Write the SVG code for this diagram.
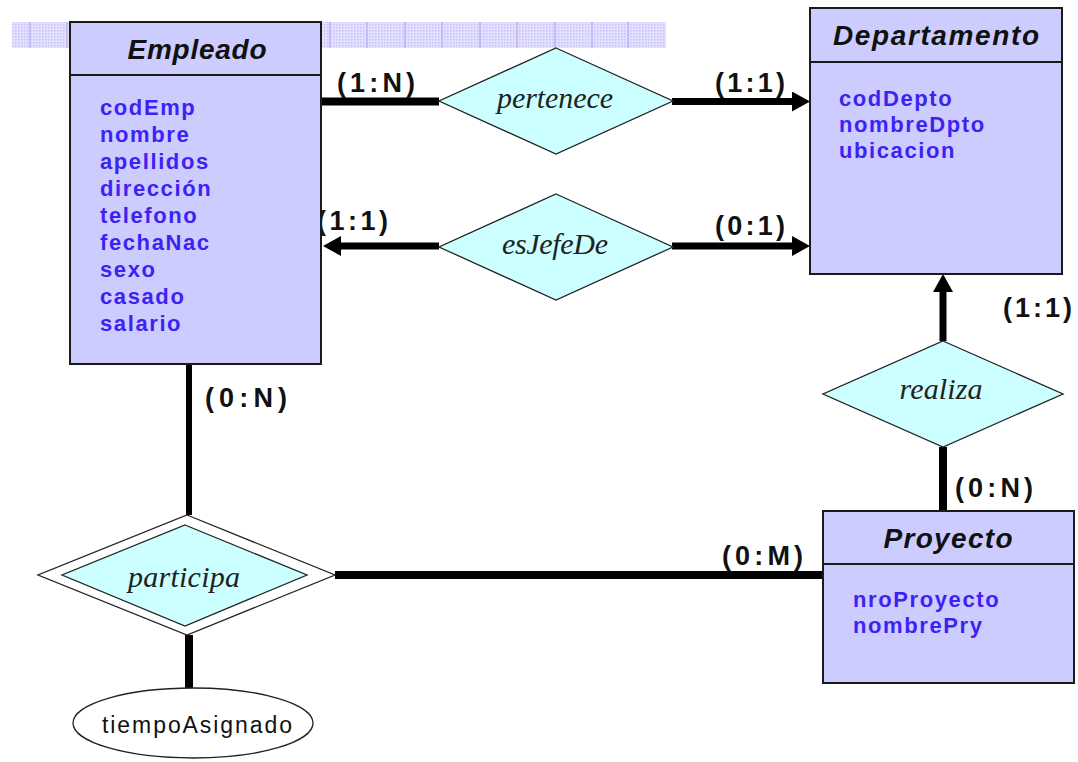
<svg xmlns="http://www.w3.org/2000/svg" width="1078" height="762" viewBox="0 0 1078 762">
  <defs>
    <pattern id="dots" width="3" height="3" patternUnits="userSpaceOnUse">
      <rect width="3" height="3" fill="#e4e1ff"/>
      <rect width="1.5" height="1.5" fill="#c6c1fa"/>
    </pattern>
    <marker id="arrow" viewBox="0 -10 18 20" refX="0" refY="0" markerWidth="18" markerHeight="20" markerUnits="userSpaceOnUse" orient="auto">
      <path d="M0,-10 L18,0 L0,10 z" fill="#000"/>
    </marker>
    <style>
      .entity { fill: #ccccff; stroke: #1a1a1a; stroke-width: 2; }
      .divider { stroke: #1a1a1a; stroke-width: 2; }
      .rel { fill: #ccffff; stroke: #222; stroke-width: 1.3; }
      .title { font-family: "Liberation Sans", Arial, sans-serif; font-style: italic; font-weight: bold; font-size: 28px; fill: #111; text-anchor: middle; }
      .attr { font-family: "Liberation Sans", Arial, sans-serif; font-weight: bold; font-size: 22px; letter-spacing: 1.6px; fill: #3d22f2; }
      .relname { font-family: "Liberation Serif", "Times New Roman", serif; font-style: italic; font-size: 30px; fill: #222; text-anchor: middle; }
      .card { font-family: "Liberation Sans", Arial, sans-serif; font-weight: bold; font-size: 27px; fill: #111; }
      .conn { stroke: #000; fill: none; }
    </style>
  </defs>

  <rect width="1078" height="762" fill="#ffffff"/>

  <!-- dotted banner strip behind the top of the page -->
  <g id="banner">
    <rect x="12" y="22" width="654" height="26" fill="url(#dots)"/>
    <g stroke="#c4bcf8" stroke-width="2">
      <line x1="30" y1="22" x2="30" y2="48"/>
      <line x1="67" y1="22" x2="67" y2="48"/>
      <line x1="330" y1="22" x2="330" y2="48"/>
      <line x1="367" y1="22" x2="367" y2="48"/>
      <line x1="405" y1="22" x2="405" y2="48"/>
      <line x1="442" y1="22" x2="442" y2="48"/>
      <line x1="480" y1="22" x2="480" y2="48"/>
      <line x1="517" y1="22" x2="517" y2="48"/>
      <line x1="555" y1="22" x2="555" y2="48"/>
      <line x1="592" y1="22" x2="592" y2="48"/>
      <line x1="628" y1="22" x2="628" y2="48"/>
    </g>
  </g>

  <!-- connectors -->
  <g id="connectors" class="conn">
    <line x1="321" y1="101.5" x2="439" y2="101.5" stroke-width="8"/>
    <line x1="672" y1="101.5" x2="792" y2="101.5" stroke-width="7" marker-end="url(#arrow)"/>
    <line x1="439" y1="246" x2="341" y2="246" stroke-width="7" marker-end="url(#arrow)"/>
    <line x1="672" y1="246" x2="792" y2="246" stroke-width="7" marker-end="url(#arrow)"/>
    <line x1="943" y1="341" x2="943" y2="292" stroke-width="7" marker-end="url(#arrow)"/>
    <line x1="943" y1="447" x2="943" y2="511" stroke-width="8"/>
    <line x1="189" y1="364" x2="189" y2="515" stroke-width="6"/>
    <line x1="335" y1="575" x2="823" y2="575" stroke-width="8"/>
    <line x1="189" y1="635" x2="189" y2="688" stroke-width="8"/>
  </g>

  <!-- cardinalities -->
  <g id="cardinalities" class="card">
    <text x="337" y="92" textLength="78">(1:N)</text>
    <text x="715" y="92" textLength="70">(1:1)</text>
    <text x="317" y="230" textLength="71">(1:1)</text>
    <text x="715" y="235" textLength="70">(0:1)</text>
    <text x="1003" y="317" textLength="69">(1:1)</text>
    <text x="955" y="497" textLength="78">(0:N)</text>
    <text x="205" y="407" textLength="82">(0:N)</text>
    <text x="722" y="565" textLength="81">(0:M)</text>
  </g>

  <!-- entity: Empleado -->
  <g id="empleado">
    <rect class="entity" x="70" y="22" width="251" height="342"/>
    <line class="divider" x1="70" y1="75" x2="321" y2="75"/>
    <text class="title" x="197" y="59" textLength="139">Empleado</text>
    <text class="attr" x="100" y="115">codEmp</text>
    <text class="attr" x="100" y="142">nombre</text>
    <text class="attr" x="100" y="169">apellidos</text>
    <text class="attr" x="100" y="196">dirección</text>
    <text class="attr" x="100" y="223">telefono</text>
    <text class="attr" x="100" y="250">fechaNac</text>
    <text class="attr" x="100" y="277">sexo</text>
    <text class="attr" x="100" y="304">casado</text>
    <text class="attr" x="100" y="331">salario</text>
  </g>

  <!-- entity: Departamento -->
  <g id="departamento">
    <rect class="entity" x="810" y="8" width="252" height="266"/>
    <line class="divider" x1="810" y1="62" x2="1062" y2="62"/>
    <text class="title" x="936" y="45" textLength="206">Departamento</text>
    <text class="attr" x="839" y="106">codDepto</text>
    <text class="attr" x="839" y="132">nombreDpto</text>
    <text class="attr" x="839" y="158">ubicacion</text>
  </g>

  <!-- entity: Proyecto -->
  <g id="proyecto">
    <rect class="entity" x="823" y="511" width="251" height="172"/>
    <line class="divider" x1="823" y1="564" x2="1074" y2="564"/>
    <text class="title" x="948" y="548" textLength="129">Proyecto</text>
    <text class="attr" x="853" y="607">nroProyecto</text>
    <text class="attr" x="853" y="633">nombrePry</text>
  </g>

  <!-- relationship: pertenece -->
  <g id="pertenece">
    <polygon class="rel" points="556,48 673,101 556,154 439,101"/>
    <text class="relname" x="555" y="108" textLength="116">pertenece</text>
  </g>

  <!-- relationship: esJefeDe -->
  <g id="esJefeDe">
    <polygon class="rel" points="556,194 673,247 556,300 439,247"/>
    <text class="relname" x="555" y="254" textLength="106">esJefeDe</text>
  </g>

  <!-- relationship: realiza -->
  <g id="realiza">
    <polygon class="rel" points="943,341 1063,394 943,447 823,394"/>
    <text class="relname" x="941" y="399" textLength="83">realiza</text>
  </g>

  <!-- weak relationship: participa (double outline) -->
  <g id="participa">
    <polygon points="187,515 335,575 187,635 38,575" fill="#ffffff" stroke="#222" stroke-width="1.3"/>
    <polygon class="rel" points="185,525 307,575 185,626 62,575"/>
    <text class="relname" x="184" y="587" textLength="112">participa</text>
  </g>

  <!-- attribute of participa -->
  <g id="tiempoAsignado">
    <ellipse cx="193" cy="723" rx="120" ry="35" fill="#ffffff" stroke="#222" stroke-width="1.3"/>
    <text x="197" y="733" text-anchor="middle" textLength="190" font-family="Liberation Sans, Arial, sans-serif" font-size="23" fill="#111">tiempoAsignado</text>
  </g>
</svg>
